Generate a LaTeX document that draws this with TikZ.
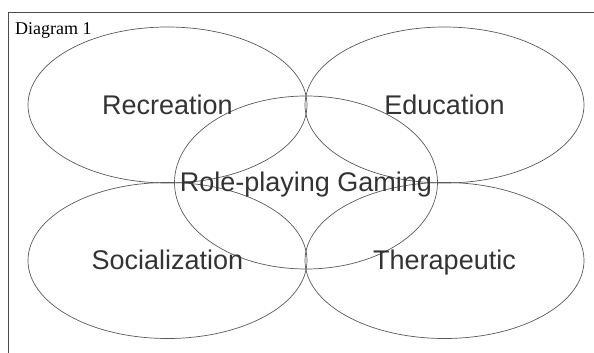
\documentclass[tikz,border=0pt]{standalone}
\usepackage{fontspec}
\setmainfont{Liberation Serif}
\setsansfont{Liberation Sans}
\usetikzlibrary{shapes.geometric}

\begin{document}
\begin{tikzpicture}[x=1pt, y=-1pt,
    every node/.style={font=\sffamily\fontsize{27}{30}\selectfont, text=black!80,
        text height=20pt, text depth=6pt, inner sep=0pt},
    area/.style={ellipse, draw=black!65, line width=0.7pt,
        minimum width=279pt, minimum height=156pt},
    fieldname/.style={yshift=-2pt}]
    \useasboundingbox (0,0) rectangle (594,353);

    % frame
    \draw[black!70, line width=0.8pt] (8,353) -- (8,12) -- (594,12);
    \node (title) at (15,35) [anchor=base west, text=black,
        text height=, text depth=,
        font=\rmfamily\fontsize{18}{20}\selectfont] {Diagram 1};

    % four fields round the middle
    \node (rec) at (167.5,105) [area] {};
    \node (edu) at (444.5,105) [area] {};
    \node (soc) at (167.5,260.5) [area] {};
    \node (ther) at (444.5,260.5) [area] {};
    \node (rpg) at (306,182.5) [area, minimum width=263pt, minimum height=173pt] {};

    % names
    \node (reclabel) at (rec) [fieldname] {Recreation};
    \node (edulabel) at (edu) [fieldname] {Education};
    \node (soclabel) at (soc) [fieldname] {Socialization};
    \node (therlabel) at (ther) [fieldname] {Therapeutic};
    \node (rpglabel) at (rpg) [fieldname] {Role-playing Gaming};
\end{tikzpicture}
\end{document}
